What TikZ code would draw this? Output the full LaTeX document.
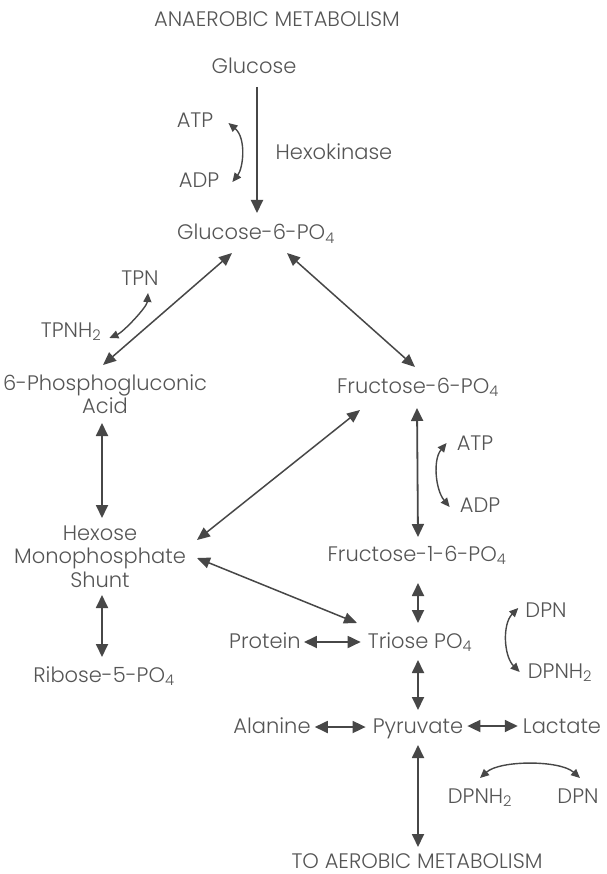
\documentclass[tikz,border=0pt]{standalone}
\usepackage{fontspec}
\setmainfont{Poppins}[UprightFont={* Light}]
\usetikzlibrary{arrows.meta,calc}
\definecolor{txt}{HTML}{555555}
\definecolor{ln}{HTML}{474747}
\begin{document}
\begin{tikzpicture}[x=1pt,y=-1pt,
 lbl/.style={anchor=base,inner sep=0pt,text=txt,align=center,font=\fontsize{21}{21}\selectfont},
 main/.style={draw=ln,line width=2pt,-{Triangle[length=13pt,width=12pt]}},
 dbl/.style={draw=ln,line width=1.8pt,{Triangle[length=13pt,width=12pt]}-{Triangle[length=13pt,width=12pt]}},
 diag/.style={draw=ln,line width=1.5pt,{Triangle[length=13pt,width=11pt]}-{Triangle[length=13pt,width=11pt]}},
 curv/.style={draw=ln,line width=1.4pt,{Triangle[length=9pt,width=8pt]}-{Triangle[length=9pt,width=8pt]}}]
\useasboundingbox (0,0) rectangle (606,874);
\fill[white] (0,0) rectangle (606,874);

% labels
\node[lbl] (title) at (277,27) {ANAEROBIC METABOLISM};
\node[lbl] (glc) at (254,74) {Glucose};
\node[lbl] (atp1) at (195,128) {ATP};
\node[lbl] (adp1) at (199,188) {ADP};
\node[lbl] (hexk) at (334,160) {Hexokinase};
\node[lbl] (g6p) at (256,240) {Glucose-6-PO\textsubscript{4}};
\node[lbl] (tpn) at (140,285) {TPN};
\node[lbl] (tpnh) at (71,337) {TPNH\textsubscript{2}};
\node[lbl] (pga) at (105,413) {6-Phosphogluconic\\Acid};
\node[lbl] (f6p) at (418,393) {Fructose-6-PO\textsubscript{4}};
\node[lbl] (atp2) at (475,450) {ATP};
\node[lbl] (adp2) at (480,512) {ADP};
\node[lbl,font=\fontsize{21}{23.5}\selectfont] (hms) at (100,587) {Hexose\\Monophosphate\\Shunt};
\node[lbl] (f16p) at (417,561) {Fructose-1-6-PO\textsubscript{4}};
\node[lbl] (r5p) at (104,682) {Ribose-5-PO\textsubscript{4}};
\node[lbl] (prot) at (265,648) {Protein};
\node[lbl] (tri) at (420,648) {Triose PO\textsubscript{4}};
\node[lbl] (dpn1) at (546,617) {DPN};
\node[lbl] (dpnh1) at (560,678) {DPNH\textsubscript{2}};
\node[lbl] (ala) at (272,733) {Alanine};
\node[lbl] (pyr) at (418,733) {Pyruvate};
\node[lbl] (lac) at (562,733) {Lactate};
\node[lbl] (dpnh2) at (480,803) {DPNH\textsubscript{2}};
\node[lbl] (dpn2) at (578,803) {DPN};
\node[lbl] (aer) at (417,868) {TO AEROBIC METABOLISM};

% main pathway
\draw[main] ($(glc.base)+(3,13)$) -- ($(g6p.base)+(1,-27)$);
\draw[diag] ($(g6p.base)+(-24,13)$) -- ($(pga.base)+(-2,-48)$);
\draw[diag] ($(g6p.base)+(31,13)$) -- ($(f6p.base)+(-3,-26)$);
\draw[dbl] ($(pga.base)+(-3,10)$) -- ($(hms.base)+(2,-69)$);
\draw[diag] ($(hms.base)+(97,-47)$) -- ($(f6p.base)+(-58,17)$);
\draw[diag] ($(hms.base)+(97,-29)$) -- ($(tri.base)+(-63,-25)$);
\draw[dbl] ($(f6p.base)+(-1,15)$) -- ($(f16p.base)+(1,-24)$);
\draw[dbl] ($(f16p.base)+(1,22)$) -- ($(tri.base)+(-2,-25)$);
\draw[dbl] ($(tri.base)+(-2,12)$) -- ($(pyr.base)+(0,-23)$);
\draw[dbl] ($(hms.base)+(2,8)$) -- ($(r5p.base)+(-2,-25)$);
\draw[dbl] ($(pyr.base)+(0,12)$) -- ($(aer.base)+(1,-21)$);
\draw[dbl] ($(prot.base east)+(3,-6)$) -- ($(tri.base west)+(-7,-6)$);
\draw[dbl] ($(ala.base east)+(4,-6)$) -- ($(pyr.base west)+(-7,-6)$);
\draw[dbl] ($(pyr.base east)+(4,-7)$) -- ($(lac.base west)+(-5,-7)$);

% cofactor curves
\draw[curv] ($(atp1.base east)+(15,-5)$) .. controls +(18,15) and +(11,-14) .. ($(adp1.base east)+(13,-6)$);
\draw[curv] ($(tpn.base)+(8,8)$) .. controls +(-1,14) and +(14,-6) .. ($(tpnh.base east)+(8,1)$);
\draw[curv] ($(atp2.base west)+(-10,-7)$) .. controls +(-14,17) and +(-14,-17) .. ($(adp2.base west)+(-10,-5)$);
\draw[curv] ($(dpn1.base west)+(-7,-9)$) .. controls +(-16,16) and +(-16,-16) .. ($(dpnh1.base west)+(-8,-6)$);
\draw[curv] ($(dpnh2.base)+(0,-25)$) .. controls +(20,-18) and +(-20,-18) .. ($(dpn2.base)+(2,-25)$);
\end{tikzpicture}
\end{document}
